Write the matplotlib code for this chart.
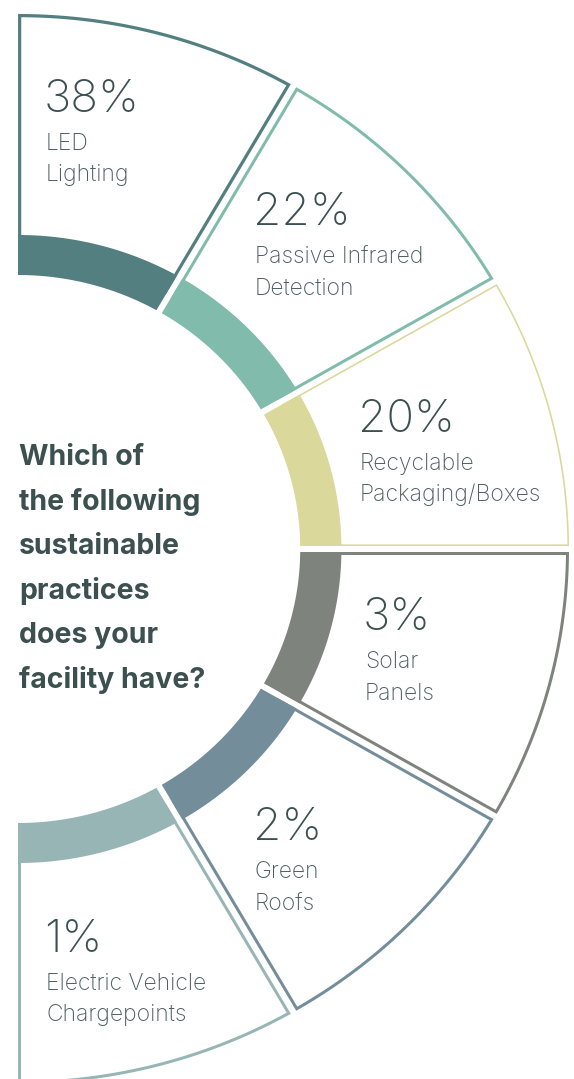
import numpy as np
import matplotlib.pyplot as plt
from matplotlib.patches import Polygon

# survey answers, one segment each (drawn as equal slices, like the infographic)
values = [38, 22, 20, 3, 2, 1]
labels = [['LED', 'Lighting'],
          ['Passive Infrared', 'Detection'],
          ['Recyclable', 'Packaging/Boxes'],
          ['Solar', 'Panels'],
          ['Green', 'Roofs'],
          ['Electric Vehicle', 'Chargepoints']]
colors = ['#537f80', '#80bbab', '#dbd89b', '#7f837d', '#748d9b', '#97b5b5']
question = ['Which of', 'the following', 'sustainable', 'practices',
            'does your', 'facility have?']

# layout (pixels, y down)
cx, cy = 18, 549
sx = 1.03
r_in, r_mid, r_out = 274, 314, 535
half_gap = 3
outline_px = [3.2, 3.0, 1.6, 3.0, 3.0, 3.0]
text_pos = [(46, 112), (255, 225), (360, 432), (365, 630), (255, 840), (46, 952)]
text_col = '#3c5050'
label_col = '#4d5f60'
font = 'Inter'


def ring_segment(a0, a1, r1, r2, h0, h1, n=80):
    # a0 > a1 in degrees, edges pulled in by h0 / h1 pixels
    def start(r):
        return np.radians(a0) - np.arcsin(h0 / r)

    def end(r):
        return np.radians(a1) + np.arcsin(h1 / r)

    t_out = np.linspace(start(r2), end(r2), n)
    t_in = np.linspace(end(r1), start(r1), n)
    xs = np.concatenate([cx + sx * r2 * np.cos(t_out), cx + sx * r1 * np.cos(t_in)])
    ys = np.concatenate([cy - r2 * np.sin(t_out), cy - r1 * np.sin(t_in)])
    return np.column_stack([xs, ys])


fig = plt.figure(figsize=(5.74, 10.79), dpi=100)
ax = fig.add_axes([0, 0, 1, 1])
ax.set_xlim(0, 574)
ax.set_ylim(1079, 0)
ax.axis('off')

n = len(values)
step = 180 / n
for i in range(n):
    a0 = 90 - step * i
    a1 = a0 - step
    h0 = 0 if i == 0 else half_gap
    h1 = 0 if i == n - 1 else half_gap
    lw = outline_px[i]

    # outlined box
    pts = ring_segment(a0, a1, (r_in + r_mid) / 2, r_out - lw / 2,
                       h0 + lw / 2, h1 + lw / 2)
    ax.add_patch(Polygon(pts, closed=True, facecolor='white', edgecolor=colors[i],
                         linewidth=lw * 0.72, joinstyle='miter'))
    # thick inner band
    ax.add_patch(Polygon(ring_segment(a0, a1, r_in, r_mid, h0, h1), closed=True,
                         facecolor=colors[i], edgecolor='none'))

    x, y = text_pos[i]
    ax.text(x - 2, y, f'{values[i]}%', fontsize=33, family=font, weight='light',
            color=text_col, va='baseline', ha='left')
    for j, line in enumerate(labels[i]):
        ax.text(x, y + 38 + 31.5 * j, line, fontsize=16.5, family=font,
                weight='light', color=label_col, va='baseline', ha='left')

for k, line in enumerate(question):
    ax.text(19, 465 + 44.6 * k, line, fontsize=20.5, family=font, weight='bold',
            color=text_col, va='baseline', ha='left')

plt.savefig('out.png', dpi=100)
